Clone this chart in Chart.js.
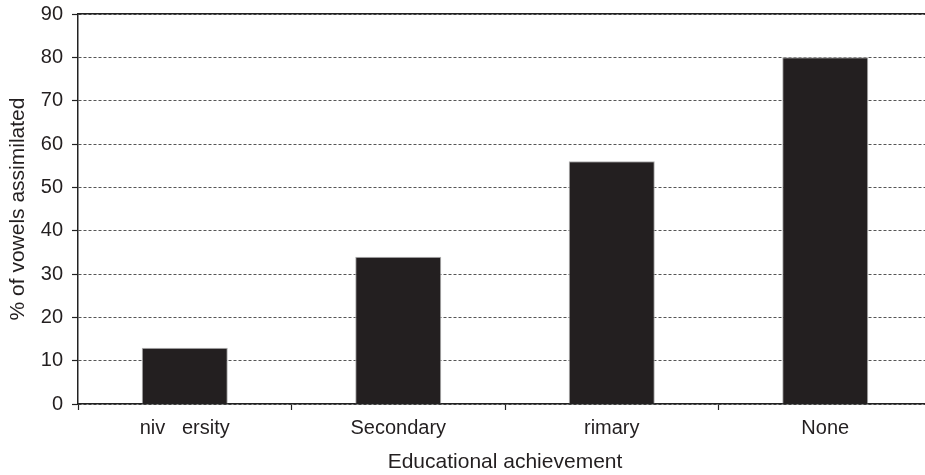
<!DOCTYPE html>
<html>
<head>
<meta charset="utf-8">
<script src="https://cdn.jsdelivr.net/npm/chart.js@4"></script>
<style>
  html, body { margin: 0; padding: 0; background: #fff; overflow: hidden; }
  #wrap { position: relative; width: 932px; height: 475px; }
</style>
</head>
<body>
<div id="wrap"><canvas id="c"></canvas></div>
<script>
const categories = ["niv   ersity", "Secondary", "rimary", "None"];
const assimilated = [13, 34, 56, 80];
const yTicks = [0, 10, 20, 30, 40, 50, 60, 70, 80, 90];
const xTitle = "Educational achievement";
const yTitle = "% of vowels assimilated";

const FONT = "'Liberation Sans', Arial, Helvetica, sans-serif";

new Chart(document.getElementById('c'), {
  type: 'bar',
  data: {
    labels: categories,
    datasets: [{
      data: assimilated,
      backgroundColor: '#231f20',
      borderColor: '#b0b0b0',
      borderWidth: 1,
      categoryPercentage: 1.0,
      barPercentage: 0.403
    }]
  },
  options: {
    responsive: true,
    maintainAspectRatio: false,
    animation: false,
    layout: { padding: { top: 14, right: 0, bottom: 0, left: 0 } },
    plugins: { legend: { display: false }, tooltip: { enabled: false } },
    scales: {
      x: {
        type: 'category',
        position: 'bottom',
        grid: { display: true, drawOnChartArea: false, drawTicks: true, tickLength: 6, tickColor: '#222', tickWidth: 1.2, offset: true },
        border: { display: true, color: '#222', width: 1.5 },
        ticks: { color: '#231f20', font: { family: FONT, size: 20 }, padding: 6, maxRotation: 0, autoSkip: false },
        title: { display: true, text: xTitle, color: '#231f20', font: { family: FONT, size: 21 }, padding: { top: 0, bottom: 0 } },
        afterFit: (s) => { s.height = 71; s.paddingLeft = 0; s.paddingRight = 0; }
      },
      x2: {
        type: 'category',
        position: 'top',
        labels: categories,
        grid: { display: false },
        border: { display: true, color: '#222', width: 1.5 },
        ticks: { display: false },
        afterFit: (s) => { s.height = 0; s.paddingLeft = 0; s.paddingRight = 0; }
      },
      y: {
        min: 0,
        max: 90,
        afterBuildTicks: (s) => { s.ticks = yTicks.map(v => ({ value: v })); },
        grid: { color: '#555', lineWidth: 1, drawTicks: true, tickLength: 6, tickColor: '#222', tickWidth: 1.2 },
        border: { display: true, color: '#222', width: 1.5, dash: [3, 2] },
        ticks: { color: '#231f20', font: { family: FONT, size: 20 }, padding: 9 },
        title: { display: true, text: yTitle, color: '#231f20', font: { family: FONT, size: 21 }, padding: { top: 6, bottom: 0 } },
        afterFit: (s) => { s.width = 78; s.paddingTop = 0; s.paddingBottom = 0; }
      }
    }
  }
});
</script>
</body>
</html>
